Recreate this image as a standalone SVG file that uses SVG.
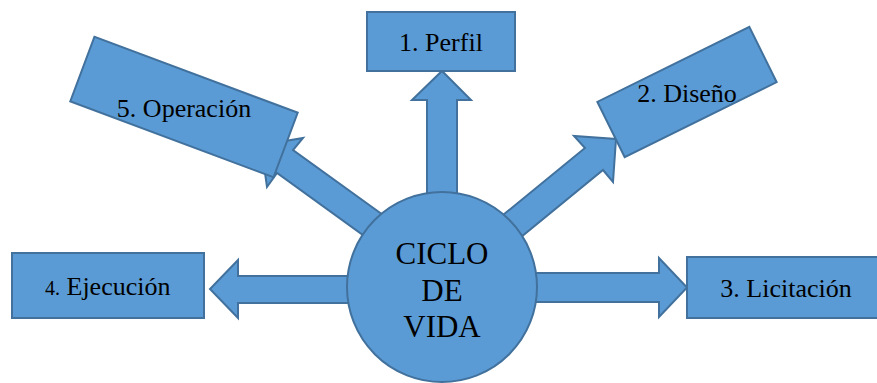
<svg xmlns="http://www.w3.org/2000/svg" width="877" height="383" viewBox="0 0 877 383">
<style>
.s{fill:#5B9BD5;stroke:#41719C;stroke-width:2;stroke-linejoin:miter}
.t{font-family:'Liberation Serif','DejaVu Serif',serif;font-size:26px;fill:#000;text-anchor:middle}
.c{font-size:31px}
</style>
<rect width="877" height="383" fill="#fff"/>
<g id="connectors">
<polygon class="s" points="427,215 427,100 412,100 442,71 471,100 457,100 457,215"/>
<polygon class="s" points="360,276 238,276 238,260 210,289 238,318 238,303 360,303"/>
<polygon class="s" points="520,273 659,273 659,258 687,287.5 659,317 659,302 520,302"/>
<polygon class="s" points="492,224 585,148 574,136 616,139 613,182 603,170 510,246"/>
<polygon class="s" points="390,220 293,150 303,138 261,145 267,187 277,173 374,243"/>
</g>
<g id="center">
<circle class="s" cx="442" cy="287" r="95"/>
<text class="t c" x="442" y="264">CICLO</text>
<text class="t c" x="442" y="301">DE</text>
<text class="t c" x="442" y="337">VIDA</text>
</g>
<g id="perfil">
<rect class="s" x="367" y="12" width="148" height="59"/>
<text class="t" x="441" y="51">1. Perfil</text>
</g>
<g id="diseno">
<rect class="s" x="-84.75" y="-30.85" width="169.5" height="61.7" transform="translate(687,92) rotate(-26.3)"/>
<text class="t" x="687" y="102">2. Diseño</text>
</g>
<g id="licitacion">
<rect class="s" x="687" y="257" width="192" height="61"/>
<text class="t" x="786" y="297">3. Licitación</text>
</g>
<g id="ejecucion">
<rect class="s" x="12" y="253" width="192" height="65"/>
<text class="t" x="45" y="295" style="text-anchor:start"><tspan font-size="20">4.</tspan> Ejecución</text>
</g>
<g id="operacion">
<rect class="s" x="-108.5" y="-34.5" width="217" height="69" transform="translate(184,107) rotate(20.5)"/>
<text class="t" x="184" y="117">5. Operación</text>
</g>
</svg>
